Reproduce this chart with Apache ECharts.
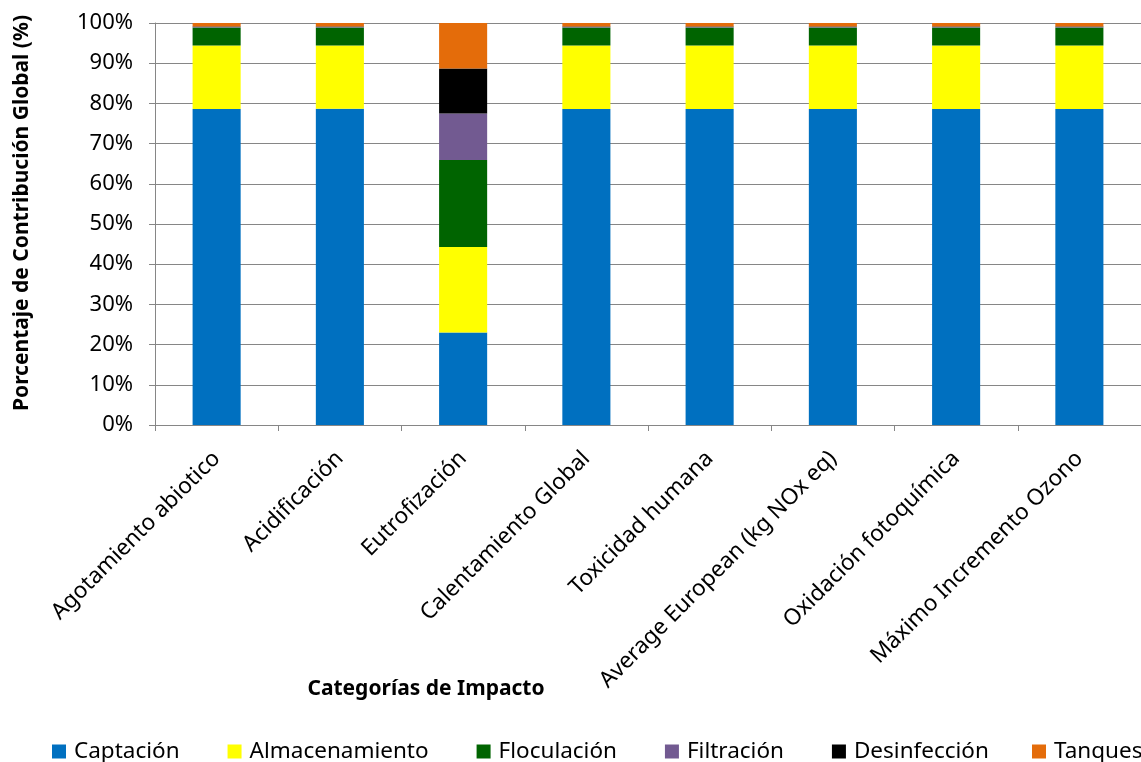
<!DOCTYPE html>
<html>
<head>
<meta charset="utf-8">
<script src="https://cdn.jsdelivr.net/npm/echarts@6/dist/echarts.min.js"></script>
<style>
  html, body { margin: 0; padding: 0; background: #fff; overflow: hidden; }
  #chart { width: 1141px; height: 762px; }
</style>
</head>
<body>
<div id="chart"></div>
<script>
// Impact categories on the x axis
const categories = [
  'Agotamiento abiotico',
  'Acidificación',
  'Eutrofización',
  'Calentamiento Global',
  'Toxicidad humana',
  'Average European (kg NOx eq)',
  'Oxidación fotoquímica',
  'Máximo Incremento Ozono'
];

// Share (%) of each process stage in every category
const captacion      = [78.6, 78.7, 23.0, 78.6, 78.6, 78.6, 78.6, 78.6];
const almacenamiento = [15.8, 15.7, 21.3, 15.8, 15.8, 15.8, 15.8, 15.8];
const floculacion    = [4.5, 4.5, 21.6, 4.5, 4.5, 4.5, 4.5, 4.5];
const filtracion     = [0.1, 0.1, 11.6, 0.1, 0.1, 0.1, 0.1, 0.1];
const desinfeccion   = [0.15, 0.15, 11.2, 0.15, 0.15, 0.15, 0.15, 0.15];
const tanques        = [0.85, 0.85, 11.3, 0.85, 0.85, 0.85, 0.85, 0.85];

const seriesNames  = ['Captación', 'Almacenamiento', 'Floculación', 'Filtración', 'Desinfección', 'Tanques'];
const seriesValues = [captacion, almacenamiento, floculacion, filtracion, desinfeccion, tanques];
const seriesColors = ['#0070C0', '#FFFF00', '#006400', '#725A91', '#000000', '#E46C0A'];

const yTicks = [0, 10, 20, 30, 40, 50, 60, 70, 80, 90, 100];

const FONT = 'Noto Sans';

const legendText = { fontFamily: FONT, fontSize: 22.5, color: '#000', padding: [0, 0, 0, 3] };

const chart = echarts.init(document.getElementById('chart'), null, { renderer: 'canvas' });

chart.setOption({
  animation: false,
  backgroundColor: '#ffffff',
  textStyle: { fontFamily: FONT, color: '#000' },
  grid: { left: 155, right: -12, top: 23, bottom: 337, containLabel: false },
  title: [
    {
      text: 'Categorías de Impacto',
      left: 421, top: 674,
      textAlign: 'center',
      textStyle: { fontFamily: FONT, fontSize: 21, fontWeight: 'bold', color: '#000' }
    }
  ],
  graphic: [
    {
      type: 'text',
      x: 22, y: 213,
      rotation: Math.PI / 2,
      style: {
        text: 'Porcentaje de Contribución Global (%)',
        font: 'bold 21px "' + FONT + '"',
        fill: '#000',
        textAlign: 'center',
        textVerticalAlign: 'middle'
      }
    }
  ],
  // The legend row runs past the right edge, so the last entry gets its own box
  legend: [
    {
      left: 47, top: 735,
      icon: 'rect',
      itemWidth: 14, itemHeight: 14,
      itemGap: 48,
      textStyle: legendText,
      data: seriesNames.slice(0, 5)
    },
    {
      left: 1027, top: 735,
      icon: 'rect',
      itemWidth: 14, itemHeight: 14,
      textStyle: legendText,
      data: seriesNames.slice(5)
    }
  ],
  xAxis: {
    type: 'category',
    data: categories,
    axisLine: { lineStyle: { color: '#868686', width: 1 } },
    axisTick: { show: true, length: 6, lineStyle: { color: '#868686' } },
    axisLabel: {
      rotate: 45,
      interval: 0,
      margin: 30,
      fontFamily: FONT,
      fontSize: 22.5,
      color: '#000'
    },
    splitLine: { show: false }
  },
  yAxis: {
    type: 'value',
    min: 0, max: 100, interval: 10,
    axisLine: { show: true, lineStyle: { color: '#868686' } },
    axisTick: { show: true, length: 6, lineStyle: { color: '#868686' } },
    axisLabel: {
      fontFamily: FONT, fontSize: 22, color: '#000', margin: 22,
      formatter: function (v) { return yTicks.indexOf(v) >= 0 ? v + '%' : ''; }
    },
    splitLine: { show: true, lineStyle: { color: '#868686', width: 1 } }
  },
  series: seriesNames.map(function (name, i) {
    return {
      name: name,
      type: 'bar',
      stack: 'total',
      barWidth: '39%',
      data: seriesValues[i],
      itemStyle: { color: seriesColors[i] }
    };
  })
});
</script>
</body>
</html>
